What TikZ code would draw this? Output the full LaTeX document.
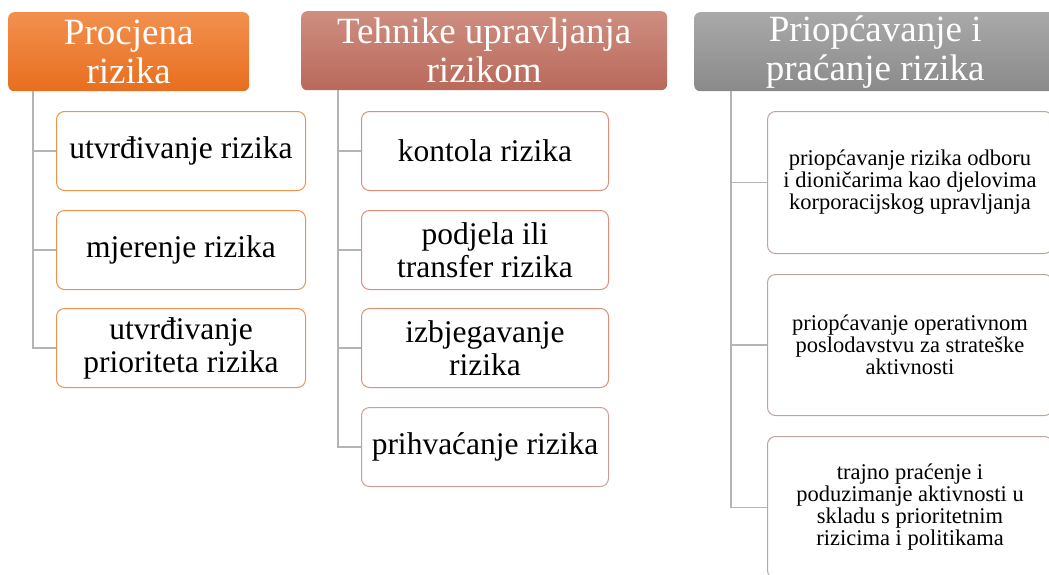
\documentclass[tikz,border=0pt]{standalone}
\usepackage{fontspec}
\setmainfont{Liberation Serif}
\newfontfamily\tnr{Liberation Serif}
\definecolor{orTop}{HTML}{F2904F}
\definecolor{orBot}{HTML}{E86E1E}
\definecolor{brTop}{HTML}{CE8E80}
\definecolor{brBot}{HTML}{B9695A}
\definecolor{grTop}{HTML}{A9A9A9}
\definecolor{grBot}{HTML}{8A8A8A}
\definecolor{orLine}{HTML}{F0924F}
\definecolor{brLine}{HTML}{D9917B}
\definecolor{brLine2}{HTML}{C9A096}
\definecolor{grLine}{HTML}{BCA4A0}
\definecolor{linkc}{HTML}{B4B4B4}
\tikzset{
  head/.style={rounded corners=6pt, text=white, align=center, inner sep=0pt, anchor=north west,
    font=\tnr\fontsize{37}{39}\selectfont},
  kid/.style={draw, rounded corners=8pt, fill=white, align=center, inner sep=0pt, anchor=north west,
    line width=1pt, font=\tnr\fontsize{31.5}{33}\selectfont},
  kidsmall/.style={kid, font=\tnr\fontsize{22.5}{22}\selectfont},
  link/.style={draw=linkc, line width=1.3pt}
}
\begin{document}
\begin{tikzpicture}[x=1pt,y=-1pt]
\useasboundingbox (0,0) rectangle (1049,574);
\clip (0,0) rectangle (1049,574);
% headers
\node[head, top color=orTop, bottom color=orBot, minimum width=241pt, minimum height=79pt] (h1) at (8,12) {Procjena\\rizika};
\node[head, top color=brTop, bottom color=brBot, minimum width=366pt, minimum height=79pt] (h2) at (301,11) {Tehnike upravljanja\\rizikom};
\node[head, top color=grTop, bottom color=grBot, minimum width=362pt, minimum height=79pt] (h3) at (694,12) {Priopćavanje i\\praćanje rizika};
% column 1
\node[kid, draw=orLine, minimum width=249pt, minimum height=79pt] (a1) at (56,111) {utvrđivanje rizika};
\node[kid, draw=orLine, minimum width=249pt, minimum height=79pt] (a2) at (56,210) {mjerenje rizika};
\node[kid, draw=orLine, minimum width=249pt, minimum height=79pt] (a3) at (56,308) {utvrđivanje\\prioriteta rizika};
% column 2
\node[kid, draw=brLine, minimum width=247pt, minimum height=79pt] (b1) at (361,111) {kontola rizika};
\node[kid, draw=brLine, minimum width=247pt, minimum height=79pt] (b2) at (361,210) {podjela ili\\transfer rizika};
\node[kid, draw=brLine, minimum width=247pt, minimum height=79pt] (b3) at (361,308) {izbjegavanje\\rizika};
\node[kid, draw=brLine2, minimum width=247pt, minimum height=79pt] (b4) at (361,407) {prihvaćanje rizika};
% column 3
\node[kidsmall, draw=grLine, minimum width=285pt, minimum height=142pt] (c1) at (767,111) {priopćavanje rizika odboru\\i dioničarima kao djelovima\\korporacijskog upravljanja};
\node[kidsmall, draw=grLine, minimum width=285pt, minimum height=141pt] (c2) at (767,274) {priopćavanje operativnom\\poslodavstvu za strateške\\aktivnosti};
\node[kidsmall, draw=grLine, minimum width=285pt, minimum height=142pt] (c3) at (767,436) {trajno praćenje i\\poduzimanje aktivnosti u\\skladu s prioritetnim\\rizicima i politikama};
% connectors
\foreach \k in {a1,a2,a3} \draw[link] ([xshift=25pt]h1.south west) |- (\k.west);
\foreach \k in {b1,b2,b3,b4} \draw[link] ([xshift=37pt]h2.south west) |- (\k.west);
\foreach \k in {c1,c2,c3} \draw[link] ([xshift=37pt]h3.south west) |- (\k.west);
\end{tikzpicture}
\end{document}
